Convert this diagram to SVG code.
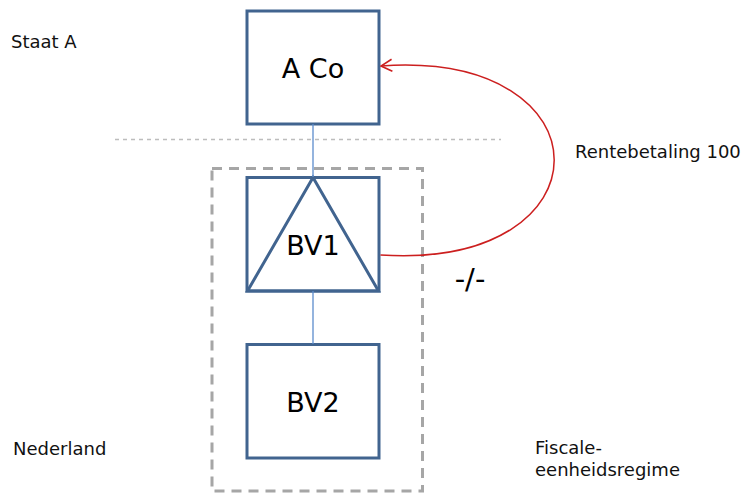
<svg xmlns="http://www.w3.org/2000/svg" width="747" height="493" viewBox="0 0 747 493">
<style>
.box{fill:#fff;stroke:#41648f;stroke-width:3}
.tri{fill:none;stroke:#41648f;stroke-width:3;stroke-linejoin:miter}
.link{stroke:#5b8ccc;stroke-width:1.3;fill:none}
.big{font-family:"DejaVu Sans",Verdana,sans-serif;font-size:27px;fill:#000;text-anchor:middle}
.lbl{font-family:"DejaVu Sans",Verdana,sans-serif;font-size:18px;fill:#111}
</style>
<defs>
<marker id="arr" viewBox="0 0 14 14" refX="13" refY="7" markerWidth="14" markerHeight="14" markerUnits="userSpaceOnUse" orient="auto">
<path d="M2,1 L13,7 L2,13" fill="none" stroke="#cc1f1f" stroke-width="1.6"/>
</marker>
</defs>
<line x1="115" y1="139.5" x2="501" y2="139.5" stroke="#bdbdbd" stroke-width="1.3" stroke-dasharray="4 4"/>
<rect x="212" y="168.5" width="210.5" height="322.5" fill="none" stroke="#a6a6a6" stroke-width="3" stroke-dasharray="10 7"/>
<g id="aco">
<rect class="box" x="247" y="11" width="132" height="113"/>
<text class="big" x="313" y="78">A Co</text>
</g>
<g id="bv1">
<rect class="box" x="247" y="177.5" width="132" height="113.5"/>
<polygon class="tri" points="313,177.5 247.5,291 378.5,291"/>
<text class="big" x="313" y="255">BV1</text>
</g>
<g id="bv2">
<rect class="box" x="247" y="344.5" width="132" height="113.5"/>
<text class="big" x="313" y="412">BV2</text>
</g>
<g id="connectors">
<line class="link" x1="313" y1="124" x2="313" y2="177"/>
<line class="link" x1="313" y1="291" x2="313" y2="344"/>
<path d="M380.5,255 C612,270 612,50 381,66" fill="none" stroke="#cc1f1f" stroke-width="1.5" marker-end="url(#arr)"/>
</g>
<text class="lbl" x="11" y="47.5">Staat A</text>
<text class="lbl" x="575" y="157.5">Rentebetaling 100</text>
<text class="big" x="470" y="289" style="font-size:29px">-/-</text>
<text class="lbl" x="13" y="454.5">Nederland</text>
<text class="lbl" x="535" y="453.5">Fiscale-</text>
<text class="lbl" x="535" y="476">eenheidsregime</text>
</svg>
